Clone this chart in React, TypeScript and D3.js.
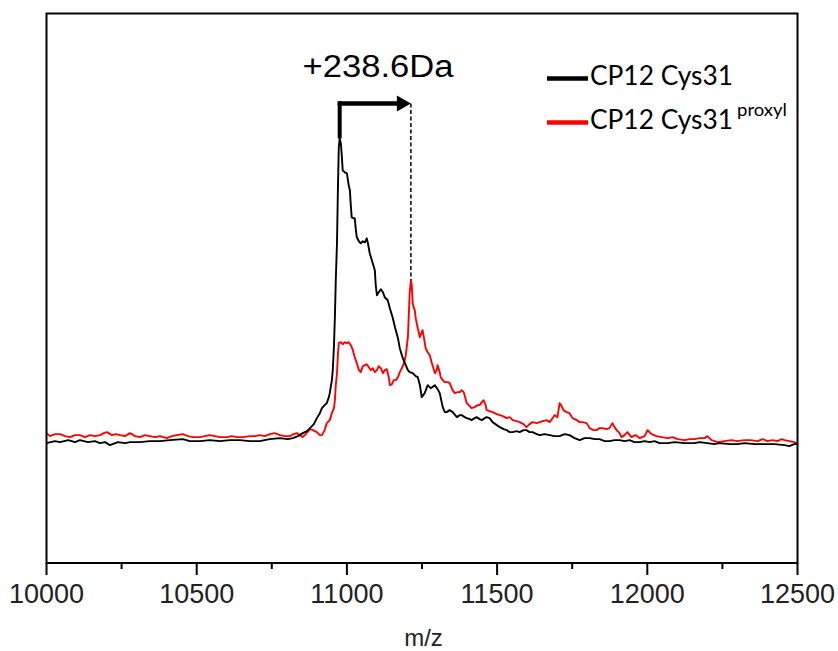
import React from "react";
import * as d3 from "d3";

// ---- data (m/z vs. intensity, arbitrary units) ----
const blackMz = [10000,10028,10045,10072,10095,10111,10138,10161,10178,10195,10211,10238,10261,10278,10311,10344,10378,10411,10454,10477,10511,10544,10577,10610,10644,10677,10710,10743,10777,10803,10820,10837,10853,10867,10877,10890,10900,10910,10917,10926,10933,10940,10943,10950,10953,10957,10960,10963,10967,10970,10973,10976,10980,10983,10986,10993,11000,11006,11010,11013,11016,11023,11026,11030,11033,11040,11046,11053,11060,11066,11070,11076,11083,11093,11096,11100,11106,11113,11120,11126,11136,11143,11153,11160,11170,11176,11186,11193,11203,11209,11219,11229,11236,11243,11249,11259,11269,11279,11293,11302,11309,11319,11326,11332,11342,11352,11366,11376,11382,11392,11399,11409,11415,11425,11432,11442,11449,11459,11465,11475,11485,11499,11509,11522,11532,11542,11552,11565,11575,11588,11598,11608,11618,11632,11642,11658,11675,11691,11708,11725,11741,11758,11775,11791,11808,11825,11841,11858,11874,11891,11908,11924,11941,11957,11974,11991,12008,12024,12041,12068,12091,12124,12157,12174,12200,12223,12240,12274,12300,12323,12357,12400,12423,12457,12473,12489,12500];
const blackIntensity = [120,122,121,123,121,123,121,122,120,121,118,121,120,121,121,122,122,123,124,122,122,123,122,123,123,122,122,124,125,124,125,127,130,132,135,139,145,150,155,158,160,166,170,183,193,218,246,283,320,373,416,425,420,408,393,391,390,378,373,358,346,345,345,333,326,322,320,322,321,325,320,310,303,293,278,268,271,274,271,266,263,255,245,236,225,215,205,200,193,191,190,187,186,178,166,170,178,175,178,174,170,156,151,151,153,151,146,148,148,146,145,144,143,145,146,144,143,145,146,145,141,138,136,134,133,131,131,132,131,133,133,131,131,129,128,129,128,127,127,129,128,125,123,125,125,124,124,122,122,123,123,122,123,121,121,122,121,122,120,120,121,120,120,121,120,119,120,119,119,120,119,119,119,118,117,119,119];

const redMz = [10000,10012,10028,10045,10062,10078,10095,10111,10128,10145,10161,10178,10191,10201,10218,10231,10245,10261,10278,10295,10311,10328,10344,10361,10378,10401,10417,10434,10454,10471,10488,10511,10527,10544,10561,10577,10601,10617,10634,10654,10677,10694,10710,10727,10743,10760,10777,10793,10810,10823,10833,10843,10853,10863,10877,10887,10900,10910,10917,10926,10933,10943,10950,10957,10960,10963,10967,10970,10973,10980,10986,10993,11000,11006,11013,11020,11026,11033,11040,11046,11053,11060,11066,11073,11080,11086,11093,11100,11106,11113,11120,11126,11133,11140,11143,11150,11156,11163,11170,11176,11183,11190,11196,11203,11206,11209,11213,11216,11219,11223,11226,11229,11236,11243,11249,11252,11259,11262,11269,11276,11282,11293,11299,11302,11309,11312,11319,11326,11336,11342,11352,11359,11369,11376,11382,11389,11399,11409,11415,11425,11435,11442,11449,11455,11462,11465,11475,11485,11499,11509,11519,11532,11542,11552,11565,11575,11588,11598,11608,11618,11632,11642,11652,11665,11675,11685,11691,11701,11708,11715,11721,11731,11741,11751,11765,11775,11785,11798,11808,11821,11831,11841,11851,11865,11874,11884,11891,11898,11908,11914,11924,11934,11947,11961,11974,11991,12001,12014,12031,12048,12068,12084,12101,12124,12141,12157,12174,12191,12200,12214,12234,12257,12280,12300,12323,12343,12367,12384,12400,12417,12433,12447,12457,12473,12489,12500];
const redIntensity = [130,127,129,129,127,126,128,128,126,128,127,128,130,131,128,129,128,127,130,127,126,128,127,126,127,125,127,128,129,127,126,126,127,128,127,126,126,127,126,126,127,127,128,127,129,130,128,127,127,129,130,128,126,129,134,133,131,128,128,133,140,143,150,155,163,178,190,208,220,221,219,221,220,221,218,213,206,200,193,191,197,198,199,196,193,195,191,193,197,195,190,193,194,185,178,179,183,183,186,191,195,200,208,226,248,270,283,278,260,255,253,245,235,226,231,233,221,215,211,208,201,190,193,198,191,186,183,181,181,180,173,170,171,171,173,171,160,157,155,156,158,158,161,163,158,153,152,151,149,148,147,145,146,143,142,141,139,136,139,141,140,141,142,143,141,145,148,146,160,157,153,151,150,145,143,141,141,140,135,133,133,135,135,134,135,140,136,133,130,126,128,131,126,128,125,127,133,129,127,126,125,126,124,123,124,124,125,125,127,123,121,122,123,122,123,123,122,124,122,123,122,124,123,122,121,119];

const xTicks = [10000, 10500, 11000, 11500, 12000, 12500];
const xMinorTicks = [10250, 10750, 11250, 11750, 12250];
const seriesNames = ["CP12 Cys31", "CP12 Cys31"];
const seriesSup = ["", "proxyl"];
const seriesColors = ["#000000", "#ff0000"];
const shiftPeaks = [10976, 11213];
const shiftPeakIntensity = [425, 283];
const shiftArrowLevel = 460;
const shiftLabel = "+238.6Da";
const xTitle = "m/z";

export default function App() {
  const left = 46.5, right = 797.5, top = 13.5, bottom = 563;
  const x = d3.scaleLinear().domain([10000, 12500]).range([left, right]);
  const y = d3.scaleLinear().domain([0, 550]).range([bottom, top]);

  const line = d3
    .line<[number, number]>()
    .x((d) => x(d[0]))
    .y((d) => y(d[1]));

  const blackData: [number, number][] = blackMz.map((m, i) => [m, blackIntensity[i]]);
  const redData: [number, number][] = redMz.map((m, i) => [m, redIntensity[i]]);

  const ax0 = x(shiftPeaks[0]);
  const ax1 = x(shiftPeaks[1]);
  const ay = y(shiftArrowLevel);

  return (
    <svg
      width={838}
      height={651}
      style={{ position: "absolute", left: 0, top: 0, background: "#fff" }}
    >
      <rect x={0} y={0} width={838} height={651} fill="#fff" />
      {/* series */}
      <path d={line(redData) || ""} fill="none" stroke={seriesColors[1]} strokeWidth={1.9} strokeLinejoin="round" />
      <path d={line(blackData) || ""} fill="none" stroke={seriesColors[0]} strokeWidth={1.9} strokeLinejoin="round" />

      {/* frame */}
      <rect x={left} y={top} width={right - left} height={bottom - top} fill="none" stroke="#000" strokeWidth={2} />

      {/* ticks */}
      {xTicks.map((t) => (
        <g key={"t" + t}>
          <line x1={x(t)} x2={x(t)} y1={bottom} y2={bottom + 12} stroke="#000" strokeWidth={2} />
          <text
            x={x(t)}
            y={603}
            textAnchor="middle"
            fontFamily="'Liberation Sans', Arial, sans-serif"
            fontSize={27}
            fill="#222"
          >
            {t}
          </text>
        </g>
      ))}
      {xMinorTicks.map((t) => (
        <line key={"m" + t} x1={x(t)} x2={x(t)} y1={bottom} y2={bottom + 6} stroke="#000" strokeWidth={2} />
      ))}
      <text
        x={423.5}
        y={646}
        textAnchor="middle"
        fontFamily="'Liberation Sans', Arial, sans-serif"
        fontSize={24}
        fill="#222"
      >
        {xTitle}
      </text>

      {/* mass-shift annotation */}
      <line x1={ax0} x2={ax0} y1={y(shiftPeakIntensity[0])} y2={ay - 2} stroke="#000" strokeWidth={4} />
      <line x1={ax0 - 2} x2={ax1 - 12} y1={ay} y2={ay} stroke="#000" strokeWidth={4.5} />
      <path
        d={`M${ax1 - 14},${ay - 8} L${ax1},${ay} L${ax1 - 14},${ay + 8} Z`}
        fill="#000"
      />
      <line
        x1={ax1}
        x2={ax1}
        y1={ay}
        y2={y(shiftPeakIntensity[1])}
        stroke="#000"
        strokeWidth={1.5}
        strokeDasharray="4,2.5"
      />
      <text
        x={302.5}
        y={77}
        fontFamily="'Liberation Sans', Arial, sans-serif"
        fontSize={31}
        textLength={151}
        lengthAdjust="spacingAndGlyphs"
        fill="#000"
      >
        {shiftLabel}
      </text>

      {/* legend */}
      {seriesNames.map((name, i) => {
        const ly = i === 0 ? 78.5 : 122.5;
        const ty = i === 0 ? 84.5 : 128.5;
        return (
          <g key={"l" + i}>
            <line x1={547} x2={588} y1={ly} y2={ly} stroke={seriesColors[i]} strokeWidth={4.5} />
            <text
              x={590}
              y={ty}
              fontFamily="Lato, 'Open Sans', sans-serif"
              fontSize={26}
              textLength={143}
              lengthAdjust="spacingAndGlyphs"
              fill="#000"
            >
              {name}
            </text>
            {seriesSup[i] && (
              <text
                x={737}
                y={116}
                fontFamily="Lato, 'Open Sans', sans-serif"
                fontSize={17}
                textLength={50}
                lengthAdjust="spacingAndGlyphs"
                fill="#000"
              >
                {seriesSup[i]}
              </text>
            )}
          </g>
        );
      })}
    </svg>
  );
}
